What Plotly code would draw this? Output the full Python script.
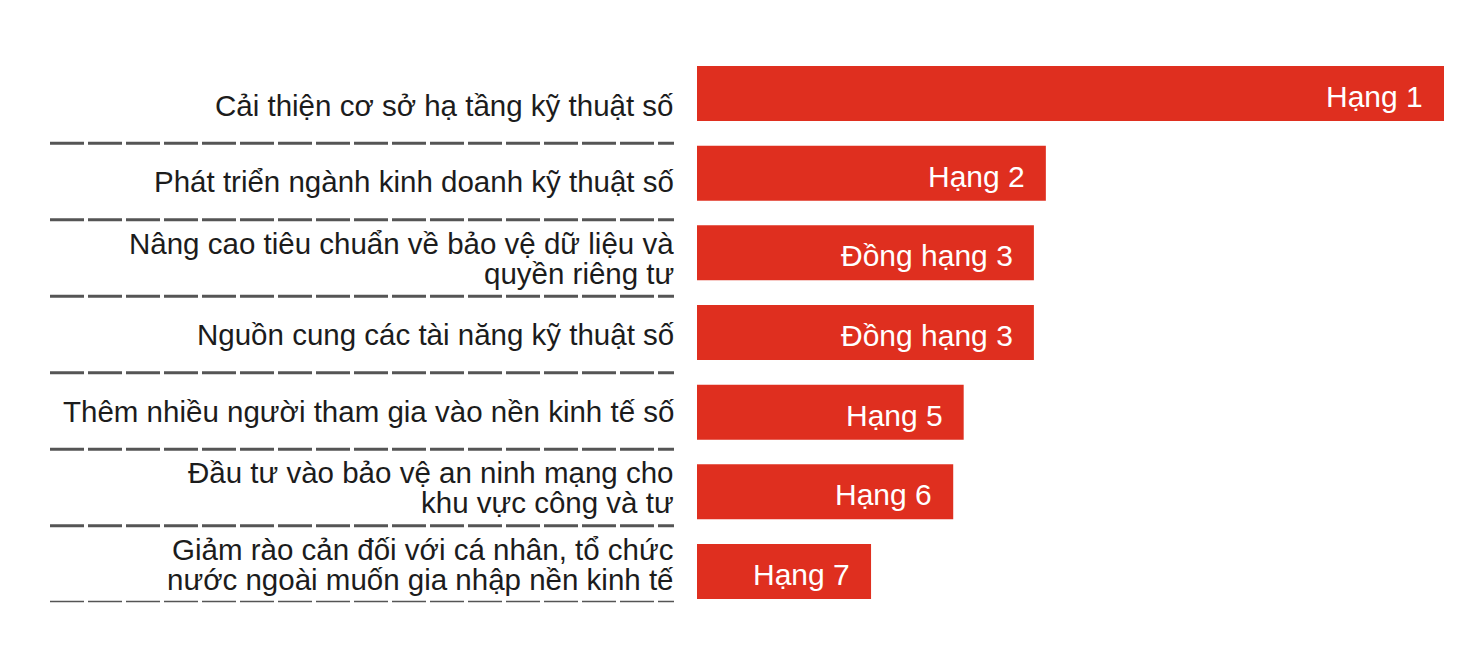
import plotly.graph_objects as go

# categories (top to bottom) and relative bar lengths
categories = [
    "Cải thiện cơ sở hạ tầng kỹ thuật số",
    "Phát triển ngành kinh doanh kỹ thuật số",
    "Nâng cao tiêu chuẩn về bảo vệ dữ liệu và<br>quyền riêng tư",
    "Nguồn cung các tài năng kỹ thuật số",
    "Thêm nhiều người tham gia vào nền kinh tế số",
    "Đầu tư vào bảo vệ an ninh mạng cho<br>khu vực công và tư",
    "Giảm rào cản đối với cá nhân, tổ chức<br>nước ngoài muốn gia nhập nền kinh tế",
]
scores = [100, 46.7, 45.1, 45.1, 35.7, 34.3, 23.3]
rank_labels = ["Hạng 1", "Hạng 2", "Đồng hạng 3", "Đồng hạng 3", "Hạng 5", "Hạng 6", "Hạng 7"]

# page body has an 8px margin, so the figure is shrunk and shifted by that much
OFF = 8
W, H = 1480 - 2 * OFF, 659 - 2 * OFF
RED = "#DF2F1F"
FONT = "Liberation Sans, Arial, sans-serif"
LINE_GAP = 30  # px between the two lines of a wrapped label


def px_x(px):
    return (px - OFF) / W


def px_y(py):
    return 1 - (py - OFF) / H


row_ids = list(range(len(categories)))

fig = go.Figure()

# bars
fig.add_trace(go.Bar(
    x=scores,
    y=row_ids,
    orientation="h",
    marker=dict(color=RED, line=dict(width=0)),
    hoverinfo="skip",
    showlegend=False,
))

# invisible trace that sets up the left-hand label table axis
fig.add_trace(go.Scatter(
    x=[0] * len(categories),
    y=row_ids,
    yaxis="y2",
    mode="markers",
    marker=dict(opacity=0),
    hoverinfo="skip",
    showlegend=False,
))

# rank text inside the bar ends
for i, (v, t) in enumerate(zip(scores, rank_labels)):
    fig.add_annotation(
        x=v, y=i, xref="x", yref="y",
        text=t, showarrow=False,
        xanchor="right", xshift=-19, yshift=-3,
        font=dict(family=FONT, size=30, color="white"),
    )

# category labels, each line placed separately for the tight line spacing
for i, label in enumerate(categories):
    lines = label.split("<br>")
    n = len(lines)
    for k, line in enumerate(lines):
        fig.add_annotation(
            x=px_x(676), y=i, xref="paper", yref="y2",
            text=line, showarrow=False,
            xanchor="right", yanchor="middle",
            yshift=-(k - (n - 1) / 2) * LINE_GAP,
            font=dict(family=FONT, size=29.5, color="#1c1c1c"),
        )

# dashed separators below each label row
for i in row_ids:
    fig.add_shape(
        type="line", xref="paper", yref="y2",
        x0=px_x(50), x1=px_x(674), y0=i + 0.5, y1=i + 0.5,
        line=dict(color="#555555", width=3, dash="34px,4px"),
    )

fig.update_layout(
    width=W, height=H,
    margin=dict(l=0, r=0, t=0, b=0),
    paper_bgcolor="white",
    plot_bgcolor="rgba(0,0,0,0)",
    bargap=0.31,
    xaxis=dict(
        domain=[px_x(697), px_x(1444)], range=[0, 100],
        visible=False, fixedrange=True,
    ),
    yaxis=dict(
        domain=[px_y(611.3), px_y(53.7)],
        range=[6.5, -0.5],
        visible=False,
    ),
    yaxis2=dict(
        domain=[px_y(602.25), px_y(66.75)],
        anchor="x",
        range=[6.5, -0.5],
        visible=False,
    ),
)

fig.write_html("out.html")
